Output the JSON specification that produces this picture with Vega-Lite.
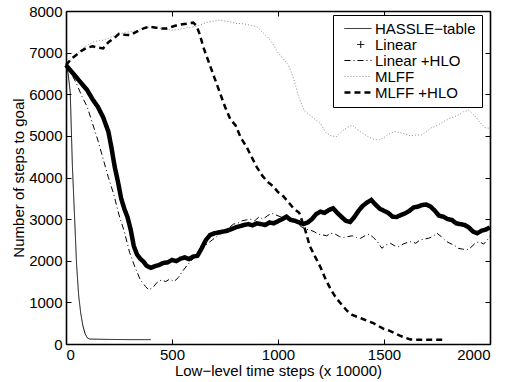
{
  "$schema": "https://vega.github.io/schema/vega-lite/v6.json",
  "width": 424,
  "height": 333,
  "autosize": "none",
  "padding": {"left": 66, "top": 11, "right": 22, "bottom": 38},
  "background": "white",
  "config": {
    "font": "Liberation Sans",
    "view": {"stroke": null},
    "axis": {"labelFont": "Liberation Sans", "titleFont": "Liberation Sans", "labelFontSize": 15, "titleFontSize": 15, "labelColor": "black", "titleColor": "black", "titleFontWeight": "normal", "domainColor": "black", "domainWidth": 1.6, "tickColor": "black", "tickWidth": 1, "grid": false, "format": "d"},
    "legend": {"labelFont": "Liberation Sans", "labelFontSize": 15, "labelColor": "black"}
  },
  "data": {"values": [
    {"series":"HASSLE−table","t":0,"n":6700},{"series":"HASSLE−table","t":10,"n":6500},{"series":"HASSLE−table","t":20,"n":6050},{"series":"HASSLE−table","t":30,"n":4300},{"series":"HASSLE−table","t":40,"n":3100},{"series":"HASSLE−table","t":50,"n":1900},{"series":"HASSLE−table","t":60,"n":1150},{"series":"HASSLE−table","t":70,"n":720},{"series":"HASSLE−table","t":80,"n":430},{"series":"HASSLE−table","t":90,"n":250},{"series":"HASSLE−table","t":100,"n":150},{"series":"HASSLE−table","t":110,"n":120},{"series":"HASSLE−table","t":150,"n":115},{"series":"HASSLE−table","t":200,"n":110},{"series":"HASSLE−table","t":300,"n":105},{"series":"HASSLE−table","t":400,"n":105},

    {"series":"Linear","t":0,"n":6700},{"series":"Linear","t":25,"n":6550},{"series":"Linear","t":50,"n":6400},{"series":"Linear","t":75,"n":6250},{"series":"Linear","t":100,"n":6100},{"series":"Linear","t":125,"n":5880},{"series":"Linear","t":150,"n":5700},{"series":"Linear","t":175,"n":5450},{"series":"Linear","t":200,"n":5100},{"series":"Linear","t":215,"n":4700},{"series":"Linear","t":230,"n":4250},{"series":"Linear","t":245,"n":3900},{"series":"Linear","t":260,"n":3500},{"series":"Linear","t":275,"n":3250},{"series":"Linear","t":290,"n":3050},{"series":"Linear","t":305,"n":2750},{"series":"Linear","t":320,"n":2350},{"series":"Linear","t":335,"n":2150},{"series":"Linear","t":350,"n":2050},{"series":"Linear","t":365,"n":1980},{"series":"Linear","t":380,"n":1880},{"series":"Linear","t":400,"n":1830},{"series":"Linear","t":420,"n":1870},{"series":"Linear","t":440,"n":1900},{"series":"Linear","t":460,"n":1950},{"series":"Linear","t":480,"n":1960},{"series":"Linear","t":500,"n":2020},{"series":"Linear","t":520,"n":1990},{"series":"Linear","t":540,"n":2050},{"series":"Linear","t":560,"n":2080},{"series":"Linear","t":580,"n":2040},{"series":"Linear","t":600,"n":2100},{"series":"Linear","t":620,"n":2120},{"series":"Linear","t":640,"n":2300},{"series":"Linear","t":660,"n":2500},{"series":"Linear","t":680,"n":2620},{"series":"Linear","t":700,"n":2660},{"series":"Linear","t":720,"n":2680},{"series":"Linear","t":740,"n":2700},{"series":"Linear","t":760,"n":2720},{"series":"Linear","t":780,"n":2760},{"series":"Linear","t":800,"n":2800},{"series":"Linear","t":820,"n":2830},{"series":"Linear","t":840,"n":2860},{"series":"Linear","t":860,"n":2880},{"series":"Linear","t":880,"n":2850},{"series":"Linear","t":900,"n":2900},{"series":"Linear","t":920,"n":2880},{"series":"Linear","t":940,"n":2860},{"series":"Linear","t":960,"n":2920},{"series":"Linear","t":980,"n":2900},{"series":"Linear","t":1000,"n":2950},{"series":"Linear","t":1020,"n":3000},{"series":"Linear","t":1040,"n":3060},{"series":"Linear","t":1060,"n":2980},{"series":"Linear","t":1080,"n":2960},{"series":"Linear","t":1100,"n":2920},{"series":"Linear","t":1120,"n":2880},{"series":"Linear","t":1140,"n":2920},{"series":"Linear","t":1160,"n":3000},{"series":"Linear","t":1180,"n":3120},{"series":"Linear","t":1200,"n":3180},{"series":"Linear","t":1220,"n":3150},{"series":"Linear","t":1240,"n":3220},{"series":"Linear","t":1260,"n":3260},{"series":"Linear","t":1280,"n":3150},{"series":"Linear","t":1300,"n":3050},{"series":"Linear","t":1320,"n":2960},{"series":"Linear","t":1340,"n":2930},{"series":"Linear","t":1360,"n":3050},{"series":"Linear","t":1380,"n":3200},{"series":"Linear","t":1400,"n":3320},{"series":"Linear","t":1420,"n":3400},{"series":"Linear","t":1440,"n":3460},{"series":"Linear","t":1460,"n":3350},{"series":"Linear","t":1480,"n":3250},{"series":"Linear","t":1500,"n":3200},{"series":"Linear","t":1520,"n":3150},{"series":"Linear","t":1540,"n":3060},{"series":"Linear","t":1560,"n":3050},{"series":"Linear","t":1580,"n":3100},{"series":"Linear","t":1600,"n":3140},{"series":"Linear","t":1620,"n":3200},{"series":"Linear","t":1640,"n":3280},{"series":"Linear","t":1660,"n":3300},{"series":"Linear","t":1680,"n":3340},{"series":"Linear","t":1700,"n":3350},{"series":"Linear","t":1720,"n":3300},{"series":"Linear","t":1740,"n":3200},{"series":"Linear","t":1760,"n":3080},{"series":"Linear","t":1780,"n":3060},{"series":"Linear","t":1800,"n":3000},{"series":"Linear","t":1820,"n":2980},{"series":"Linear","t":1840,"n":2900},{"series":"Linear","t":1860,"n":2880},{"series":"Linear","t":1880,"n":2860},{"series":"Linear","t":1900,"n":2800},{"series":"Linear","t":1920,"n":2700},{"series":"Linear","t":1940,"n":2660},{"series":"Linear","t":1960,"n":2720},{"series":"Linear","t":1980,"n":2750},{"series":"Linear","t":2000,"n":2800},

    {"series":"Linear +HLO","t":0,"n":6700},{"series":"Linear +HLO","t":25,"n":6500},{"series":"Linear +HLO","t":50,"n":6250},{"series":"Linear +HLO","t":75,"n":5950},{"series":"Linear +HLO","t":100,"n":5700},{"series":"Linear +HLO","t":125,"n":5300},{"series":"Linear +HLO","t":150,"n":4900},{"series":"Linear +HLO","t":175,"n":4450},{"series":"Linear +HLO","t":200,"n":4000},{"series":"Linear +HLO","t":225,"n":3600},{"series":"Linear +HLO","t":250,"n":3100},{"series":"Linear +HLO","t":275,"n":2700},{"series":"Linear +HLO","t":300,"n":2200},{"series":"Linear +HLO","t":325,"n":1850},{"series":"Linear +HLO","t":350,"n":1550},{"series":"Linear +HLO","t":375,"n":1380},{"series":"Linear +HLO","t":390,"n":1300},{"series":"Linear +HLO","t":410,"n":1360},{"series":"Linear +HLO","t":430,"n":1480},{"series":"Linear +HLO","t":450,"n":1540},{"series":"Linear +HLO","t":470,"n":1500},{"series":"Linear +HLO","t":490,"n":1560},{"series":"Linear +HLO","t":510,"n":1500},{"series":"Linear +HLO","t":530,"n":1600},{"series":"Linear +HLO","t":550,"n":1750},{"series":"Linear +HLO","t":570,"n":1880},{"series":"Linear +HLO","t":590,"n":2000},{"series":"Linear +HLO","t":610,"n":2100},{"series":"Linear +HLO","t":630,"n":2220},{"series":"Linear +HLO","t":650,"n":2350},{"series":"Linear +HLO","t":670,"n":2420},{"series":"Linear +HLO","t":690,"n":2500},{"series":"Linear +HLO","t":710,"n":2580},{"series":"Linear +HLO","t":730,"n":2650},{"series":"Linear +HLO","t":750,"n":2740},{"series":"Linear +HLO","t":770,"n":2800},{"series":"Linear +HLO","t":790,"n":2880},{"series":"Linear +HLO","t":810,"n":2900},{"series":"Linear +HLO","t":830,"n":2960},{"series":"Linear +HLO","t":850,"n":2980},{"series":"Linear +HLO","t":870,"n":3000},{"series":"Linear +HLO","t":890,"n":2960},{"series":"Linear +HLO","t":910,"n":3050},{"series":"Linear +HLO","t":930,"n":3000},{"series":"Linear +HLO","t":950,"n":3080},{"series":"Linear +HLO","t":970,"n":3140},{"series":"Linear +HLO","t":990,"n":3100},{"series":"Linear +HLO","t":1010,"n":3060},{"series":"Linear +HLO","t":1030,"n":3020},{"series":"Linear +HLO","t":1050,"n":3000},{"series":"Linear +HLO","t":1070,"n":2980},{"series":"Linear +HLO","t":1090,"n":2900},{"series":"Linear +HLO","t":1110,"n":2820},{"series":"Linear +HLO","t":1130,"n":2760},{"series":"Linear +HLO","t":1150,"n":2740},{"series":"Linear +HLO","t":1170,"n":2700},{"series":"Linear +HLO","t":1190,"n":2640},{"series":"Linear +HLO","t":1210,"n":2620},{"series":"Linear +HLO","t":1230,"n":2600},{"series":"Linear +HLO","t":1250,"n":2660},{"series":"Linear +HLO","t":1270,"n":2640},{"series":"Linear +HLO","t":1290,"n":2580},{"series":"Linear +HLO","t":1310,"n":2560},{"series":"Linear +HLO","t":1330,"n":2580},{"series":"Linear +HLO","t":1350,"n":2600},{"series":"Linear +HLO","t":1370,"n":2560},{"series":"Linear +HLO","t":1390,"n":2540},{"series":"Linear +HLO","t":1410,"n":2600},{"series":"Linear +HLO","t":1430,"n":2640},{"series":"Linear +HLO","t":1450,"n":2560},{"series":"Linear +HLO","t":1470,"n":2450},{"series":"Linear +HLO","t":1490,"n":2300},{"series":"Linear +HLO","t":1510,"n":2380},{"series":"Linear +HLO","t":1530,"n":2420},{"series":"Linear +HLO","t":1550,"n":2360},{"series":"Linear +HLO","t":1570,"n":2340},{"series":"Linear +HLO","t":1590,"n":2400},{"series":"Linear +HLO","t":1610,"n":2440},{"series":"Linear +HLO","t":1630,"n":2460},{"series":"Linear +HLO","t":1650,"n":2420},{"series":"Linear +HLO","t":1670,"n":2500},{"series":"Linear +HLO","t":1690,"n":2520},{"series":"Linear +HLO","t":1710,"n":2540},{"series":"Linear +HLO","t":1730,"n":2580},{"series":"Linear +HLO","t":1750,"n":2660},{"series":"Linear +HLO","t":1770,"n":2580},{"series":"Linear +HLO","t":1790,"n":2480},{"series":"Linear +HLO","t":1810,"n":2420},{"series":"Linear +HLO","t":1830,"n":2380},{"series":"Linear +HLO","t":1850,"n":2300},{"series":"Linear +HLO","t":1870,"n":2280},{"series":"Linear +HLO","t":1890,"n":2260},{"series":"Linear +HLO","t":1910,"n":2320},{"series":"Linear +HLO","t":1930,"n":2420},{"series":"Linear +HLO","t":1950,"n":2460},{"series":"Linear +HLO","t":1970,"n":2400},{"series":"Linear +HLO","t":1990,"n":2520},{"series":"Linear +HLO","t":2000,"n":2600},

    {"series":"MLFF","t":0,"n":6700},{"series":"MLFF","t":25,"n":6850},{"series":"MLFF","t":50,"n":6950},{"series":"MLFF","t":75,"n":7080},{"series":"MLFF","t":100,"n":7180},{"series":"MLFF","t":125,"n":7250},{"series":"MLFF","t":150,"n":7280},{"series":"MLFF","t":175,"n":7300},{"series":"MLFF","t":200,"n":7350},{"series":"MLFF","t":225,"n":7400},{"series":"MLFF","t":250,"n":7450},{"series":"MLFF","t":275,"n":7480},{"series":"MLFF","t":300,"n":7500},{"series":"MLFF","t":325,"n":7520},{"series":"MLFF","t":350,"n":7550},{"series":"MLFF","t":375,"n":7600},{"series":"MLFF","t":400,"n":7620},{"series":"MLFF","t":425,"n":7600},{"series":"MLFF","t":450,"n":7580},{"series":"MLFF","t":475,"n":7560},{"series":"MLFF","t":500,"n":7540},{"series":"MLFF","t":525,"n":7550},{"series":"MLFF","t":550,"n":7580},{"series":"MLFF","t":575,"n":7600},{"series":"MLFF","t":600,"n":7620},{"series":"MLFF","t":625,"n":7650},{"series":"MLFF","t":650,"n":7700},{"series":"MLFF","t":675,"n":7740},{"series":"MLFF","t":700,"n":7760},{"series":"MLFF","t":725,"n":7780},{"series":"MLFF","t":750,"n":7760},{"series":"MLFF","t":775,"n":7740},{"series":"MLFF","t":800,"n":7700},{"series":"MLFF","t":825,"n":7700},{"series":"MLFF","t":850,"n":7680},{"series":"MLFF","t":875,"n":7650},{"series":"MLFF","t":900,"n":7620},{"series":"MLFF","t":925,"n":7500},{"series":"MLFF","t":950,"n":7380},{"series":"MLFF","t":975,"n":7220},{"series":"MLFF","t":1000,"n":7000},{"series":"MLFF","t":1025,"n":6850},{"series":"MLFF","t":1050,"n":6700},{"series":"MLFF","t":1075,"n":6350},{"series":"MLFF","t":1100,"n":5900},{"series":"MLFF","t":1125,"n":5600},{"series":"MLFF","t":1150,"n":5500},{"series":"MLFF","t":1175,"n":5400},{"series":"MLFF","t":1200,"n":5300},{"series":"MLFF","t":1225,"n":5080},{"series":"MLFF","t":1250,"n":5000},{"series":"MLFF","t":1275,"n":4980},{"series":"MLFF","t":1300,"n":5100},{"series":"MLFF","t":1325,"n":5200},{"series":"MLFF","t":1350,"n":5260},{"series":"MLFF","t":1375,"n":5150},{"series":"MLFF","t":1400,"n":5060},{"series":"MLFF","t":1425,"n":4980},{"series":"MLFF","t":1450,"n":4920},{"series":"MLFF","t":1475,"n":4900},{"series":"MLFF","t":1500,"n":4960},{"series":"MLFF","t":1525,"n":5050},{"series":"MLFF","t":1550,"n":5100},{"series":"MLFF","t":1575,"n":5080},{"series":"MLFF","t":1600,"n":5040},{"series":"MLFF","t":1625,"n":5000},{"series":"MLFF","t":1650,"n":5020},{"series":"MLFF","t":1675,"n":5020},{"series":"MLFF","t":1700,"n":5100},{"series":"MLFF","t":1725,"n":5200},{"series":"MLFF","t":1750,"n":5250},{"series":"MLFF","t":1775,"n":5320},{"series":"MLFF","t":1800,"n":5400},{"series":"MLFF","t":1825,"n":5450},{"series":"MLFF","t":1850,"n":5500},{"series":"MLFF","t":1875,"n":5580},{"series":"MLFF","t":1900,"n":5620},{"series":"MLFF","t":1925,"n":5500},{"series":"MLFF","t":1950,"n":5340},{"series":"MLFF","t":1975,"n":5200},{"series":"MLFF","t":2000,"n":5180},

    {"series":"MLFF +HLO","t":0,"n":6700},{"series":"MLFF +HLO","t":25,"n":6850},{"series":"MLFF +HLO","t":50,"n":6950},{"series":"MLFF +HLO","t":75,"n":7050},{"series":"MLFF +HLO","t":100,"n":7120},{"series":"MLFF +HLO","t":125,"n":7150},{"series":"MLFF +HLO","t":150,"n":7120},{"series":"MLFF +HLO","t":175,"n":7100},{"series":"MLFF +HLO","t":200,"n":7250},{"series":"MLFF +HLO","t":225,"n":7340},{"series":"MLFF +HLO","t":250,"n":7450},{"series":"MLFF +HLO","t":275,"n":7430},{"series":"MLFF +HLO","t":300,"n":7420},{"series":"MLFF +HLO","t":325,"n":7480},{"series":"MLFF +HLO","t":350,"n":7550},{"series":"MLFF +HLO","t":375,"n":7600},{"series":"MLFF +HLO","t":400,"n":7620},{"series":"MLFF +HLO","t":425,"n":7600},{"series":"MLFF +HLO","t":450,"n":7580},{"series":"MLFF +HLO","t":475,"n":7580},{"series":"MLFF +HLO","t":500,"n":7620},{"series":"MLFF +HLO","t":525,"n":7660},{"series":"MLFF +HLO","t":550,"n":7680},{"series":"MLFF +HLO","t":575,"n":7700},{"series":"MLFF +HLO","t":600,"n":7720},{"series":"MLFF +HLO","t":615,"n":7650},{"series":"MLFF +HLO","t":630,"n":7450},{"series":"MLFF +HLO","t":650,"n":7100},{"series":"MLFF +HLO","t":675,"n":6750},{"series":"MLFF +HLO","t":700,"n":6400},{"series":"MLFF +HLO","t":725,"n":6050},{"series":"MLFF +HLO","t":750,"n":5700},{"series":"MLFF +HLO","t":775,"n":5400},{"series":"MLFF +HLO","t":800,"n":5250},{"series":"MLFF +HLO","t":825,"n":4950},{"series":"MLFF +HLO","t":850,"n":4750},{"series":"MLFF +HLO","t":875,"n":4500},{"series":"MLFF +HLO","t":900,"n":4250},{"series":"MLFF +HLO","t":925,"n":4050},{"series":"MLFF +HLO","t":950,"n":3900},{"series":"MLFF +HLO","t":975,"n":3800},{"series":"MLFF +HLO","t":1000,"n":3650},{"series":"MLFF +HLO","t":1025,"n":3550},{"series":"MLFF +HLO","t":1050,"n":3400},{"series":"MLFF +HLO","t":1075,"n":3250},{"series":"MLFF +HLO","t":1100,"n":3150},{"series":"MLFF +HLO","t":1125,"n":2800},{"series":"MLFF +HLO","t":1150,"n":2350},{"series":"MLFF +HLO","t":1175,"n":2100},{"series":"MLFF +HLO","t":1200,"n":1850},{"series":"MLFF +HLO","t":1225,"n":1550},{"series":"MLFF +HLO","t":1250,"n":1300},{"series":"MLFF +HLO","t":1275,"n":1100},{"series":"MLFF +HLO","t":1300,"n":950},{"series":"MLFF +HLO","t":1325,"n":800},{"series":"MLFF +HLO","t":1350,"n":700},{"series":"MLFF +HLO","t":1375,"n":650},{"series":"MLFF +HLO","t":1400,"n":600},{"series":"MLFF +HLO","t":1425,"n":550},{"series":"MLFF +HLO","t":1450,"n":500},{"series":"MLFF +HLO","t":1475,"n":430},{"series":"MLFF +HLO","t":1500,"n":360},{"series":"MLFF +HLO","t":1525,"n":320},{"series":"MLFF +HLO","t":1550,"n":260},{"series":"MLFF +HLO","t":1575,"n":200},{"series":"MLFF +HLO","t":1600,"n":150},{"series":"MLFF +HLO","t":1625,"n":110},{"series":"MLFF +HLO","t":1650,"n":100},{"series":"MLFF +HLO","t":1700,"n":100},{"series":"MLFF +HLO","t":1750,"n":100},{"series":"MLFF +HLO","t":1780,"n":100}
  ]},
  "layer": [
    {
      "mark": {"type": "line", "interpolate": "linear", "strokeCap": "butt"},
      "encoding": {
        "x": {"field": "t", "type": "quantitative", "scale": {"domain": [0, 2000], "nice": false},
              "axis": {"orient": "bottom", "values": [0, 500, 1000, 1500, 2000], "tickSize": -5, "labelPadding": 8, "title": "Low−level time steps (x 10000)", "titlePadding": 1}},
        "y": {"field": "n", "type": "quantitative", "scale": {"domain": [0, 8000], "nice": false},
              "axis": {"orient": "left", "values": [0, 1000, 2000, 3000, 4000, 5000, 6000, 7000, 8000], "tickSize": -5, "labelPadding": 9, "title": "Number of steps to goal", "titlePadding": 2}},
        "color": {"field": "series", "type": "nominal",
                  "scale": {"domain": ["HASSLE−table", "Linear", "Linear +HLO", "MLFF", "MLFF +HLO"], "range": ["black", "black", "black", "#8a8a8a", "black"]},
                  "legend": {"title": null, "orient": "none", "legendX": 267, "legendY": 4, "strokeColor": "black", "fillColor": "white", "padding": 6, "symbolSize": 225, "labelOffset": 21, "rowPadding": -1.3,
                    "labelExpr": "datum.label + '   '",
                    "encode": {"symbols": {"update": {
                      "shape": {"signal": "datum.value === 'Linear' ? 'M1.43,0L2.37,0M1.9,-0.47L1.9,0.47' : 'M-0.27,0L3.33,0'"},
                      "fill": {"value": "transparent"},
                      "strokeWidth": {"signal": "datum.value === 'MLFF +HLO' ? 2.5 : 1"},
                      "strokeDash": {"signal": "datum.value === 'Linear' ? [1,0] : scale('strokeDash', datum.value)"}
                    }}}}},
        "strokeDash": {"field": "series", "type": "nominal",
                       "scale": {"domain": ["HASSLE−table", "Linear", "Linear +HLO", "MLFF", "MLFF +HLO"], "range": [[1, 0], [1, 0], [6, 3, 1, 3], [1, 2], [6, 4]]}},
        "strokeWidth": {"condition": [{"test": "datum.series === 'Linear'", "value": 4.5}, {"test": "datum.series === 'MLFF +HLO'", "value": 2.5}], "value": 1}
      }
    },
    {
      "mark": {"type": "line", "strokeOpacity": 0},
      "encoding": {
        "x": {"field": "t", "type": "quantitative", "axis": {"orient": "top", "values": [0, 500, 1000, 1500, 2000], "tickSize": -5, "labels": false, "title": null}},
        "y": {"field": "n", "type": "quantitative", "axis": {"orient": "right", "values": [0, 1000, 2000, 3000, 4000, 5000, 6000, 7000, 8000], "tickSize": -5, "labels": false, "title": null}},
        "detail": {"field": "series", "type": "nominal"}
      }
    }
  ],
  "resolve": {"axis": {"x": "independent", "y": "independent"}}
}
